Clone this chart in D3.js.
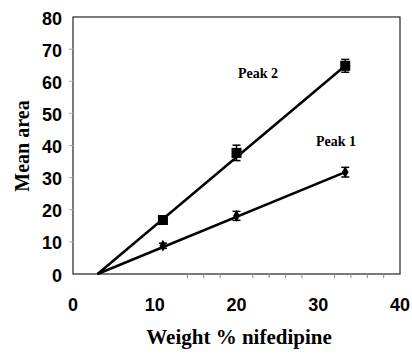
<!DOCTYPE html>
<html lang="en">
<head>
<meta charset="UTF-8">
<title>Mean area vs weight % nifedipine</title>
<script src="https://d3js.org/d3.v7.min.js"></script>
<style>
body{margin:0;background:#fff}
svg{display:block}
</style>
</head>
<body>
<div id="grafica"></div>
<script>
// data
weights=[11,20,33.3]
peak1=[8.8,18.1,31.7]
peak1Err=[0.8,1.4,1.5]
peak2=[16.8,37.7,64.8]
peak2Err=[1.2,2.4,2]
// fitted lines (start near x=3 on the axis)
fitX=[3,33.3]
peak1Fit=[0,31.7]
peak2Fit=[0,64.8]
xTicks=[0,10,20,30,40]
xMinor=[14,16,18,22,24,26,28,32,34,36,38]
yTicks=[0,10,20,30,40,50,60,70,80]

ancho=412
alto=354
svg=d3.select('#grafica').append('svg')
	.attr('width',ancho)
	.attr('height',alto)

// plot box (note: "top" is taken by window.top)
pLeft=73, pRight=400, pTop=17, pBottom=274
x=d3.scaleLinear().domain([0,40]).range([pLeft,pRight])
y=d3.scaleLinear().domain([0,80]).range([pBottom,pTop])

// frame
svg.append('rect')
	.attr('x',pLeft).attr('y',pTop)
	.attr('width',pRight-pLeft).attr('height',pBottom-pTop)
	.attr('fill','none').attr('stroke','#222').attr('stroke-width',1.2)

// x tick labels
svg.selectAll('.xt').data(xTicks).enter().append('text')
	.attr('x',function(d){return x(d)})
	.attr('y',311)
	.attr('text-anchor','middle')
	.attr('font-family','Liberation Sans, Arial, sans-serif')
	.attr('font-weight','bold')
	.attr('font-size',18)
	.text(function(d){return d})
svg.selectAll('.xm').data(xMinor).enter().append('line')
	.attr('x1',function(d){return x(d)}).attr('x2',function(d){return x(d)})
	.attr('y1',pBottom).attr('y2',pBottom+4)
	.attr('stroke','#888')

// y tick labels
svg.selectAll('.yt').data(yTicks).enter().append('text')
	.attr('x',62)
	.attr('y',function(d){return y(d)+7.5})
	.attr('text-anchor','end')
	.attr('font-family','Liberation Sans, Arial, sans-serif')
	.attr('font-weight','bold')
	.attr('font-size',18)
	.text(function(d){return d})
svg.selectAll('.ym').data(yTicks.slice(1,-1)).enter().append('line')
	.attr('x1',pLeft-4).attr('x2',pLeft)
	.attr('y1',function(d){return y(d)}).attr('y2',function(d){return y(d)})
	.attr('stroke','#aaa')

// axis titles
svg.append('text')
	.attr('x',239).attr('y',344)
	.attr('text-anchor','middle')
	.attr('font-family','Liberation Serif, Times New Roman, serif')
	.attr('font-weight','bold')
	.attr('font-size',21)
	.text('Weight % nifedipine')
svg.append('text')
	.attr('transform','translate(29,146) rotate(-90)')
	.attr('text-anchor','middle')
	.attr('font-family','Liberation Serif, Times New Roman, serif')
	.attr('font-weight','bold')
	.attr('font-size',20)
	.text('Mean area')

// fitted lines
line=d3.line().x(function(d){return x(d[0])}).y(function(d){return y(d[1])})
;[peak1Fit,peak2Fit].forEach(function(f){
	svg.append('path')
		.datum(d3.zip(fitX,f))
		.attr('d',line)
		.attr('fill','none').attr('stroke','#000').attr('stroke-width',2.5)
})

// error bars
function errbars(vals,errs){
	weights.forEach(function(w,i){
		var g=svg.append('g').attr('stroke','#000').attr('stroke-width',1.5)
		g.append('line').attr('x1',x(w)).attr('x2',x(w))
			.attr('y1',y(vals[i]-errs[i])).attr('y2',y(vals[i]+errs[i]))
		;[vals[i]-errs[i],vals[i]+errs[i]].forEach(function(v){
			g.append('line').attr('x1',x(w)-4).attr('x2',x(w)+4)
				.attr('y1',y(v)).attr('y2',y(v))
		})
	})
}
errbars(peak1,peak1Err)
errbars(peak2,peak2Err)

// markers
svg.selectAll('.sq').data(d3.zip(weights,peak2)).enter().append('rect')
	.attr('x',function(d){return x(d[0])-5})
	.attr('y',function(d){return y(d[1])-5})
	.attr('width',10).attr('height',10)
	.attr('fill','#000')
svg.selectAll('.dm').data(d3.zip(weights,peak1)).enter().append('path')
	.attr('d',d3.symbol().type(d3.symbolDiamond).size(40))
	.attr('transform',function(d){return 'translate('+x(d[0])+','+y(d[1])+')'})
	.attr('fill','#000')

// labels
svg.append('text')
	.attr('x',258).attr('y',78)
	.attr('text-anchor','middle')
	.attr('font-family','Liberation Serif, Times New Roman, serif')
	.attr('font-weight','bold')
	.attr('font-size',14)
	.text('Peak 2')
svg.append('text')
	.attr('x',336).attr('y',146)
	.attr('text-anchor','middle')
	.attr('font-family','Liberation Serif, Times New Roman, serif')
	.attr('font-weight','bold')
	.attr('font-size',14)
	.text('Peak 1')
</script>
</body>
</html>
